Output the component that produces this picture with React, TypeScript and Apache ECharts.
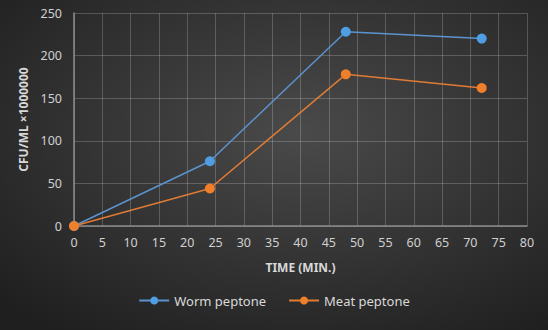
import React, { useEffect, useRef } from "react";
import * as echarts from "echarts";

const times = [0, 24, 48, 72];
const wormPeptone = [0, 76, 228, 220];
const meatPeptone = [0, 44, 178, 162];
const seriesNames = ["Worm peptone", "Meat peptone"];

export default function App() {
  const ref = useRef<HTMLDivElement>(null);
  useEffect(() => {
    document.body.style.margin = "0";
    const chart = echarts.init(ref.current!, null, { renderer: "svg" });
    const font = "'Noto Sans', 'Open Sans', sans-serif";
    chart.setOption({
      animation: false,
      backgroundColor: {
        type: "radial",
        x: 0.55,
        y: 0.4,
        r: 0.75,
        colorStops: [
          { offset: 0, color: "#4a4a4a" },
          { offset: 1, color: "#1f1f1f" },
        ],
      },
      textStyle: { fontFamily: font },
      grid: { left: 74, right: 21, top: 13, bottom: 104 },
      legend: {
        bottom: 18,
        left: "center",
        itemWidth: 30,
        itemHeight: 10,
        itemGap: 22,
        textStyle: { color: "#d9d9d9", fontSize: 13, fontFamily: font },
        data: seriesNames,
      },
      xAxis: {
        type: "value",
        min: 0,
        max: 80,
        interval: 5,
        name: "TIME (MIN.)",
        nameLocation: "middle",
        nameGap: 35,
        nameTextStyle: { color: "#d9d9d9", fontSize: 12, fontWeight: "bold", fontFamily: font },
        axisLine: { show: true, lineStyle: { color: "#8c8c8c", width: 1.5 } },
        axisTick: { show: false },
        axisLabel: { color: "#d0d0d0", fontSize: 12.5, margin: 10 },
        splitLine: { show: true, lineStyle: { color: "rgba(255,255,255,0.2)", width: 1 } },
      },
      yAxis: {
        type: "value",
        min: 0,
        max: 250,
        interval: 50,
        name: "CFU/ML ×1000000",
        nameLocation: "middle",
        nameGap: 40,
        nameTextStyle: { color: "#d9d9d9", fontSize: 12, fontWeight: "bold", fontFamily: font },
        axisLine: { show: true, lineStyle: { color: "#8c8c8c", width: 1.5 } },
        axisTick: { show: false },
        axisLabel: { color: "#d0d0d0", fontSize: 12.5, margin: 12 },
        splitLine: { show: true, lineStyle: { color: "rgba(255,255,255,0.2)", width: 1 } },
      },
      series: [
        {
          name: seriesNames[0],
          type: "line",
          data: times.map((t, i) => [t, wormPeptone[i]]),
          symbol: "circle",
          symbolSize: 10,
          itemStyle: { color: "#4f9ee3" },
          lineStyle: { color: "#5b93cf", width: 1.5 },
        },
        {
          name: seriesNames[1],
          type: "line",
          data: times.map((t, i) => [t, meatPeptone[i]]),
          symbol: "circle",
          symbolSize: 10,
          itemStyle: { color: "#f07f2a" },
          lineStyle: { color: "#e07b35", width: 1.5 },
        },
      ],
    });
    return () => chart.dispose();
  }, []);
  return <div ref={ref} style={{ width: 548, height: 330 }} />;
}
